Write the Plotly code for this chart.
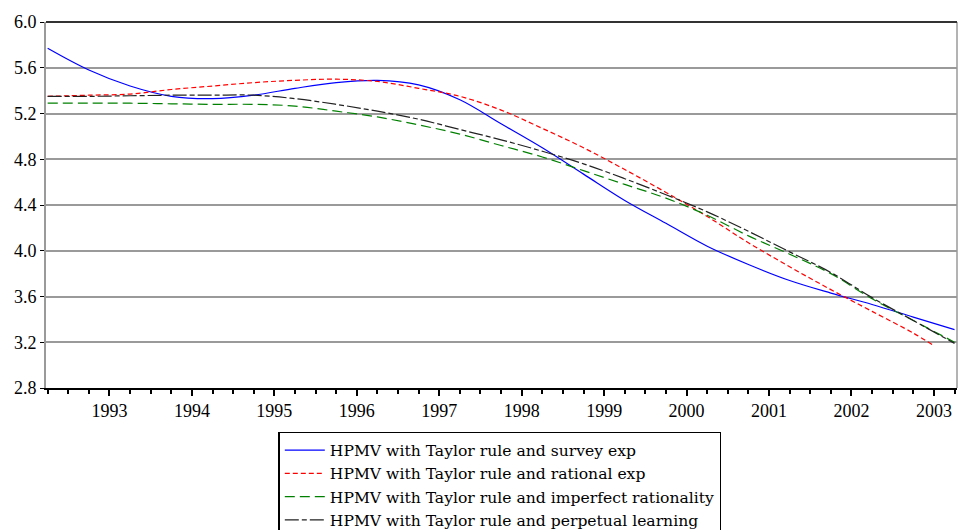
import plotly.graph_objects as go

# Semi-annual reading points (decimal years)
x_semi = [1992.25, 1992.75, 1993.25, 1993.75, 1994.25, 1994.75, 1995.25, 1995.75,
          1996.25, 1996.75, 1997.25, 1997.75, 1998.25, 1998.75, 1999.25, 1999.75,
          2000.25, 2000.75, 2001.25, 2001.75, 2002.25, 2002.75, 2003.25]
x_red = x_semi[:-1] + [2003.0]

survey = [5.77, 5.58, 5.44, 5.35, 5.33, 5.36, 5.42, 5.47,
          5.49, 5.45, 5.32, 5.11, 4.90, 4.67, 4.44, 4.24,
          4.04, 3.88, 3.74, 3.63, 3.53, 3.42, 3.31]
rational = [5.35, 5.36, 5.37, 5.41, 5.44, 5.47, 5.49, 5.50,
            5.48, 5.42, 5.35, 5.23, 5.07, 4.90, 4.71, 4.51,
            4.30, 4.07, 3.86, 3.66, 3.47, 3.28, 3.17]
imperfect = [5.29, 5.29, 5.29, 5.285, 5.28, 5.28, 5.265, 5.22,
             5.17, 5.10, 5.02, 4.92, 4.82, 4.70, 4.58, 4.46,
             4.31, 4.13, 3.97, 3.80, 3.58, 3.39, 3.20]
perpetual = [5.35, 5.35, 5.355, 5.36, 5.36, 5.36, 5.33, 5.28,
             5.22, 5.15, 5.06, 4.97, 4.87, 4.76, 4.63, 4.49,
             4.34, 4.17, 3.99, 3.81, 3.59, 3.39, 3.19]

names = ["HPMV with Taylor rule and survey exp",
         "HPMV with Taylor rule and rational exp",
         "HPMV with Taylor rule and imperfect rationality",
         "HPMV with Taylor rule and perpetual learning"]
year_ticks = list(range(1993, 2004))
y_ticks = [2.8, 3.2, 3.6, 4.0, 4.4, 4.8, 5.2, 5.6, 6.0]

FONT = "Liberation Serif, Times New Roman, serif"
LEG_FONT = "DejaVu Serif, serif"

fig = go.Figure()
specs = [
    (x_semi, survey, "#0000ff", "solid"),
    (x_red, rational, "#ff0000", "5px,3px"),
    (x_semi, imperfect, "#008000", "10px,5px"),
    (x_semi, perpetual, "#222222", "14px,3px,5px,3px"),
]
for (xs, ys, c, d), n in zip(specs, names):
    fig.add_trace(go.Scatter(x=xs, y=ys, mode="lines", name=n,
                             line=dict(color=c, width=1.2, dash=d, shape="spline", smoothing=1.0)))

fig.update_layout(
    width=958, height=530,
    margin=dict(l=46, r=1, t=22, b=142, autoexpand=False),
    plot_bgcolor="white", paper_bgcolor="white",
    font=dict(family=FONT, size=18, color="black"),
    showlegend=True,
    legend=dict(x=0.255, y=-0.12, xanchor="left", yanchor="top",
                bordercolor="black", borderwidth=1.5, bgcolor="white",
                itemwidth=40,
                font=dict(family=LEG_FONT, size=15.6), tracegroupgap=0),
    xaxis=dict(range=[1992.23, 2003.28], tickvals=year_ticks,
               ticktext=[str(y) for y in year_ticks],
               ticks="outside", ticklen=6, tickcolor="black", tickwidth=1.5,
               minor=dict(dtick=0.25, tick0=1993, ticks="outside", ticklen=4,
                          tickcolor="black", showgrid=False),
               showgrid=False, showline=True, linecolor="black", linewidth=1.5,
               mirror=False, zeroline=False,
               tickfont=dict(family=FONT, size=18)),
    yaxis=dict(range=[2.8, 6.0], tickvals=y_ticks, tickformat=".1f",
               ticks="outside", ticklen=4, tickcolor="black",
               showgrid=True, gridcolor="#9a9a9a", gridwidth=1.5,
               showline=True, linecolor="#9a9a9a", linewidth=2,
               zeroline=False, tickfont=dict(family=FONT, size=18)),
)
# right frame line and darker top line
fig.add_shape(type="line", xref="paper", yref="paper", x0=1, x1=1, y0=0, y1=1,
              line=dict(color="#9a9a9a", width=1.5))
fig.add_shape(type="line", xref="paper", yref="paper", x0=0, x1=1, y0=1, y1=1,
              line=dict(color="#333333", width=2))

fig.write_html("out.html")
